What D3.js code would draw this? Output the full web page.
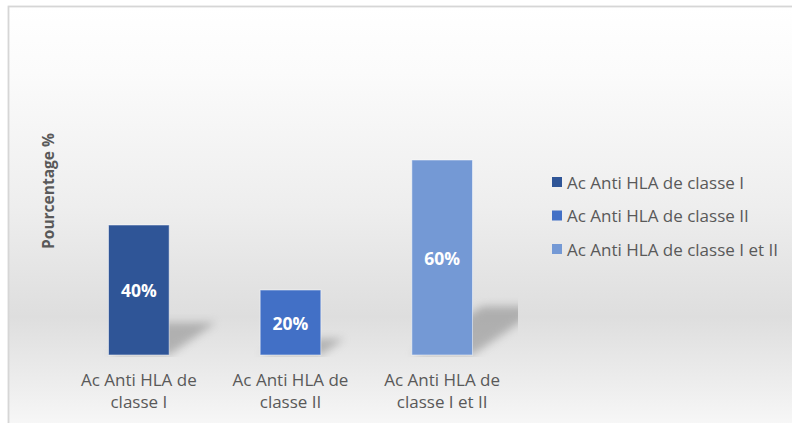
<!DOCTYPE html>
<html>
<head>
<meta charset="utf-8">
<script src="https://cdn.jsdelivr.net/npm/d3@7"></script>
<style>
  html, body { margin: 0; padding: 0; background: #ffffff; }
  svg { display: block; }
</style>
</head>
<body>
<svg id="chart" width="792" height="423"></svg>
<script>
// Categories and their percentages
const categories = ["Ac Anti HLA de classe I", "Ac Anti HLA de classe II", "Ac Anti HLA de classe I et II"];
const categoryLines = [["Ac Anti HLA de", "classe I"], ["Ac Anti HLA de", "classe II"], ["Ac Anti HLA de", "classe I et II"]];
const values = [40, 20, 60];
const colors = ["#2f5597", "#4270c6", "#7499d5"];
const yTitle = "Pourcentage %";

const svg = d3.select("#chart");
const W = 792, H = 423;
const plot = { left: 63, right: 518, top: 30, bottom: 355 };

const defs = svg.append("defs");

// soft vertical background gradient of the chart area
const bg = defs.append("linearGradient").attr("id", "bgGrad")
  .attr("x1", 0).attr("y1", 0).attr("x2", 0).attr("y2", 1);
[[0, "#ffffff"], [0.15, "#fbfbfb"], [0.45, "#eeeeee"], [0.7, "#dedede"], [0.86, "#eeeeee"], [1, "#fdfdfd"]]
  .forEach(([o, c]) => bg.append("stop").attr("offset", o).attr("stop-color", c));

const blur = defs.append("filter").attr("id", "shadowBlur")
  .attr("x", "-50%").attr("y", "-50%").attr("width", "200%").attr("height", "200%");
blur.append("feGaussianBlur").attr("stdDeviation", 4);

defs.append("clipPath").attr("id", "plotClip")
  .append("rect")
  .attr("x", plot.left).attr("y", plot.top)
  .attr("width", plot.right - plot.left).attr("height", plot.bottom - plot.top + 2);

// chart area with border
svg.append("rect")
  .attr("x", 8.5).attr("y", 6.5).attr("width", W + 20).attr("height", H + 20)
  .attr("fill", "url(#bgGrad)")
  .attr("stroke", "#d6d6d6").attr("stroke-width", 1.8);

const x = d3.scaleBand().domain(categories).range([plot.left, plot.right]).paddingInner(0.6).paddingOuter(0.3);
const y = d3.scaleLinear().domain([0, 100]).range([plot.bottom, plot.top]);

const gPlot = svg.append("g");

// perspective shadows cast to the right of each bar
const shadows = gPlot.append("g").attr("clip-path", "url(#plotClip)");
categories.forEach((c, i) => {
  const x0 = x(c), x1 = x(c) + x.bandwidth();
  const hBar = y(0) - y(values[i]);
  const dx = hBar * 0.36, dy = hBar * 0.25;
  const base = y(0);
  shadows.append("path")
    .attr("d", `M${x0},${base} L${x1},${base} L${x1 + dx},${base - dy} L${x0 + dx},${base - dy} Z`)
    .attr("fill", "#7f7f7f").attr("opacity", 0.5)
    .attr("filter", "url(#shadowBlur)");
});

// bars
gPlot.selectAll("rect.bar").data(categories).join("rect")
  .attr("class", "bar")
  .attr("x", d => x(d))
  .attr("y", (d, i) => y(values[i]))
  .attr("width", x.bandwidth())
  .attr("height", (d, i) => y(0) - y(values[i]))
  .attr("fill", (d, i) => colors[i])
  .attr("stroke", "#ffffff").attr("stroke-opacity", 0.5).attr("stroke-width", 1);

// value labels inside bars
gPlot.selectAll("text.val").data(categories).join("text")
  .attr("class", "val")
  .attr("x", d => x(d) + x.bandwidth() / 2)
  .attr("y", (d, i) => (y(values[i]) + y(0)) / 2)
  .attr("text-anchor", "middle").attr("dominant-baseline", "central")
  .attr("font-family", "'Open Sans', sans-serif").attr("font-weight", 700)
  .attr("font-size", 17.5).attr("fill", "#ffffff")
  .text((d, i) => values[i] + "%");

// category axis labels (no axis line drawn)
const xAxis = d3.axisBottom(x).tickSize(0).tickFormat("");
const gx = svg.append("g").attr("transform", `translate(0,${plot.bottom})`).call(xAxis);
gx.select(".domain").remove();
gx.selectAll(".tick").each(function(d, i) {
  const t = d3.select(this).append("text")
    .attr("text-anchor", "middle")
    .attr("font-family", "'Open Sans', sans-serif").attr("font-size", 17)
    .attr("fill", "#595959");
  categoryLines[i].forEach((line, k) => {
    t.append("tspan").attr("x", 0).attr("y", 31 + k * 22).text(line);
  });
});

// y axis title
svg.append("text")
  .attr("transform", `translate(54,191) rotate(-90)`)
  .attr("text-anchor", "middle")
  .attr("font-family", "'Open Sans', sans-serif").attr("font-weight", 700)
  .attr("font-size", 15.5).attr("fill", "#595959")
  .text(yTitle);

// legend
const legend = svg.append("g").attr("transform", "translate(552,182)");
categories.forEach((c, i) => {
  const g = legend.append("g").attr("transform", `translate(0,${i * 33.5})`);
  g.append("rect").attr("x", 0).attr("y", -5).attr("width", 10).attr("height", 10).attr("fill", colors[i]);
  g.append("text").attr("x", 15).attr("y", 0).attr("dominant-baseline", "central")
    .attr("font-family", "'Open Sans', sans-serif").attr("font-size", 17)
    .attr("fill", "#595959").text(c);
});
</script>
</body>
</html>
